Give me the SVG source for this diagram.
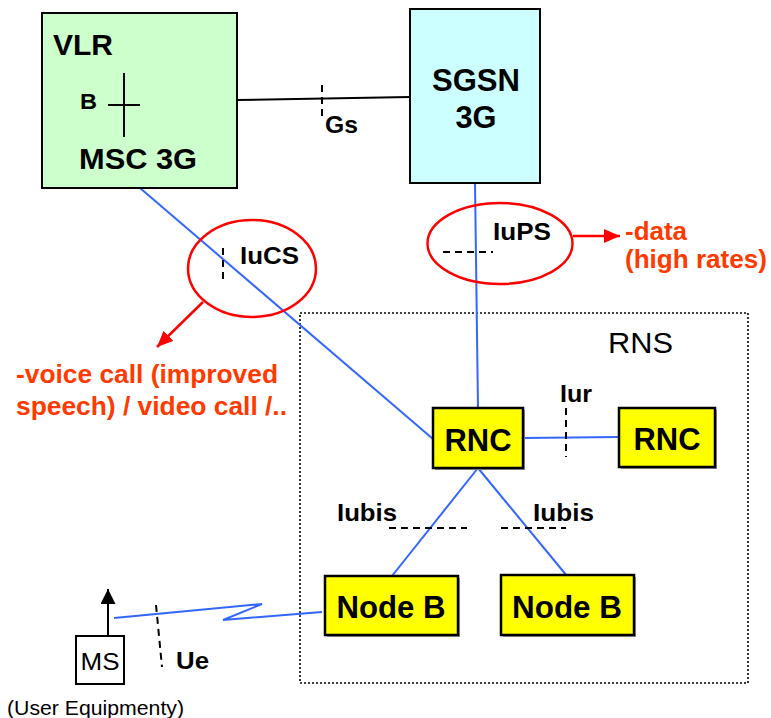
<svg xmlns="http://www.w3.org/2000/svg" width="771" height="718" viewBox="0 0 771 718">
  <style>
    text { font-family: "Liberation Sans", Arial, sans-serif; fill: #000; }
    .b { font-weight: bold; }
    .lbl { font-weight: bold; font-size: 24px; }
    .note { font-weight: bold; font-size: 25px; fill: #FF3A00; }
    .node { stroke: #000; stroke-width: 2; }
    .yel { fill: #FFFF00; stroke: #000; stroke-width: 2.5; }
    .shadow { fill: #999; }
    .link { stroke: #3366FF; stroke-width: 2; fill: none; }
    .dash { stroke: #000; stroke-width: 2; stroke-dasharray: 7 5; fill: none; }
    .oval { stroke: #FF0000; stroke-width: 2.5; fill: none; }
    .redarrow { stroke: #FF0000; stroke-width: 2.5; fill: none; }
  </style>
  <defs>
    <marker id="redhead" viewBox="0 0 16 14" refX="16" refY="7" markerWidth="16" markerHeight="14" markerUnits="userSpaceOnUse" orient="auto">
      <path d="M0,0 L16,7 L0,14 z" fill="#FF0000"/>
    </marker>
    <marker id="blackhead" viewBox="0 0 15 15" refX="15" refY="7.5" markerWidth="15" markerHeight="15" markerUnits="userSpaceOnUse" orient="auto">
      <path d="M0,0 L15,7.5 L0,15 z" fill="#000"/>
    </marker>
  </defs>

  <!-- RNS boundary -->
  <g id="rns">
    <rect x="300" y="313" width="448" height="370" fill="none" stroke="#000" stroke-width="1.6" stroke-dasharray="2 2"/>
    <text x="608" y="353" font-size="29" textLength="65" lengthAdjust="spacingAndGlyphs">RNS</text>
  </g>

  <!-- connectors -->
  <g id="connectors">
    <!-- Gs -->
    <line x1="237" y1="100" x2="410" y2="97" stroke="#000" stroke-width="2"/>
    <line class="dash" x1="322" y1="85" x2="322" y2="117" stroke-dasharray="6 4"/>
    <!-- IuCS -->
    <line class="link" x1="140" y1="188" x2="433" y2="439"/>
    <line class="dash" x1="223" y1="248" x2="223" y2="280" stroke-dasharray="6 4"/>
    <!-- IuPS -->
    <line class="link" x1="475" y1="183" x2="478" y2="408"/>
    <line class="dash" x1="443" y1="252" x2="493" y2="252" stroke-dasharray="8 5"/>
    <!-- Iur -->
    <line class="link" x1="523" y1="438" x2="619" y2="437"/>
    <line class="dash" x1="566" y1="408" x2="566" y2="457"/>
    <!-- Iubis -->
    <line class="link" x1="478" y1="468" x2="392" y2="576"/>
    <line class="link" x1="478" y1="468" x2="567" y2="576"/>
    <line class="dash" x1="389" y1="528" x2="467" y2="528" stroke-dasharray="8 5"/>
    <line class="dash" x1="501" y1="528" x2="566" y2="528" stroke-dasharray="8 5"/>
    <!-- Ue radio link -->
    <polyline class="link" points="114,618 262,604 223,620 322,612"/>
    <line class="dash" x1="156" y1="605" x2="162" y2="667"/>
  </g>

  <!-- interface ovals and notes -->
  <g id="iucs-note">
    <ellipse class="oval" cx="252" cy="268.5" rx="64" ry="48.5"/>
    <line class="redarrow" x1="203" y1="302" x2="157" y2="347" marker-end="url(#redhead)"/>
    <text class="note" x="16" y="383" textLength="262" lengthAdjust="spacingAndGlyphs">-voice call (improved</text>
    <text class="note" x="16" y="415" textLength="271" lengthAdjust="spacingAndGlyphs">speech) / video call /..</text>
  </g>
  <g id="iups-note">
    <ellipse class="oval" cx="500" cy="243.5" rx="72.5" ry="40.5"/>
    <line class="redarrow" x1="573" y1="236" x2="620" y2="236" marker-end="url(#redhead)"/>
    <text class="note" x="625" y="240" textLength="62" lengthAdjust="spacingAndGlyphs">-data</text>
    <text class="note" x="625" y="268" textLength="142" lengthAdjust="spacingAndGlyphs">(high rates)</text>
  </g>

  <!-- interface labels -->
  <g id="labels">
    <text class="lbl" x="325" y="133" textLength="33" lengthAdjust="spacingAndGlyphs">Gs</text>
    <text class="lbl" x="240" y="264" textLength="59" lengthAdjust="spacingAndGlyphs">IuCS</text>
    <text class="lbl" x="493" y="240" textLength="58" lengthAdjust="spacingAndGlyphs">IuPS</text>
    <text class="lbl" x="560" y="402" textLength="32" lengthAdjust="spacingAndGlyphs">Iur</text>
    <text class="lbl" x="337" y="521" textLength="60" lengthAdjust="spacingAndGlyphs">Iubis</text>
    <text class="lbl" x="533" y="521" textLength="61" lengthAdjust="spacingAndGlyphs">Iubis</text>
    <text class="lbl" x="176" y="669" textLength="33" lengthAdjust="spacingAndGlyphs">Ue</text>
  </g>

  <!-- core network -->
  <g id="vlr-msc">
    <rect class="node" x="42" y="13" width="195" height="175" fill="#CCFFCC"/>
    <text class="b" x="53" y="55" font-size="30" textLength="60" lengthAdjust="spacingAndGlyphs">VLR</text>
    <text class="b" x="80" y="109" font-size="22" textLength="17" lengthAdjust="spacingAndGlyphs">B</text>
    <line x1="124" y1="73" x2="124" y2="137" stroke="#000" stroke-width="2"/>
    <line x1="108" y1="105" x2="140" y2="105" stroke="#000" stroke-width="2"/>
    <text class="b" x="79" y="169" font-size="29" textLength="118" lengthAdjust="spacingAndGlyphs">MSC 3G</text>
  </g>
  <g id="sgsn">
    <rect class="node" x="410" y="9" width="130" height="174" fill="#CCFFFF"/>
    <text class="b" x="476" y="91" font-size="32" text-anchor="middle" textLength="88" lengthAdjust="spacingAndGlyphs">SGSN</text>
    <text class="b" x="476" y="128" font-size="32" text-anchor="middle" textLength="41" lengthAdjust="spacingAndGlyphs">3G</text>
  </g>

  <!-- radio network -->
  <g id="rnc1">
    <rect class="shadow" x="435" y="410" width="90" height="60"/>
    <rect class="yel" x="433" y="408" width="90" height="60"/>
    <text class="b" x="478" y="451" font-size="31" text-anchor="middle" textLength="67" lengthAdjust="spacingAndGlyphs">RNC</text>
  </g>
  <g id="rnc2">
    <rect class="shadow" x="621" y="410" width="96" height="59"/>
    <rect class="yel" x="619" y="408" width="96" height="59"/>
    <text class="b" x="667" y="450" font-size="31" text-anchor="middle" textLength="67" lengthAdjust="spacingAndGlyphs">RNC</text>
  </g>
  <g id="nodeb1">
    <rect class="shadow" x="327" y="578" width="133" height="59"/>
    <rect class="yel" x="325" y="576" width="133" height="59"/>
    <text class="b" x="391" y="618" font-size="31" text-anchor="middle" textLength="109" lengthAdjust="spacingAndGlyphs">Node B</text>
  </g>
  <g id="nodeb2">
    <rect class="shadow" x="503" y="577" width="133" height="60"/>
    <rect class="yel" x="501" y="575" width="133" height="60"/>
    <text class="b" x="567" y="618" font-size="31" text-anchor="middle" textLength="110" lengthAdjust="spacingAndGlyphs">Node B</text>
  </g>

  <!-- mobile station -->
  <g id="ms">
    <line x1="108" y1="636" x2="108" y2="589" stroke="#000" stroke-width="2" marker-end="url(#blackhead)"/>
    <rect x="76" y="636" width="48" height="48" fill="#fff" stroke="#000" stroke-width="2"/>
    <text x="100" y="670" font-size="24" text-anchor="middle" textLength="39" lengthAdjust="spacingAndGlyphs">MS</text>
    <text x="7" y="715" font-size="20" textLength="177" lengthAdjust="spacingAndGlyphs">(User Equipmenty)</text>
  </g>
</svg>
